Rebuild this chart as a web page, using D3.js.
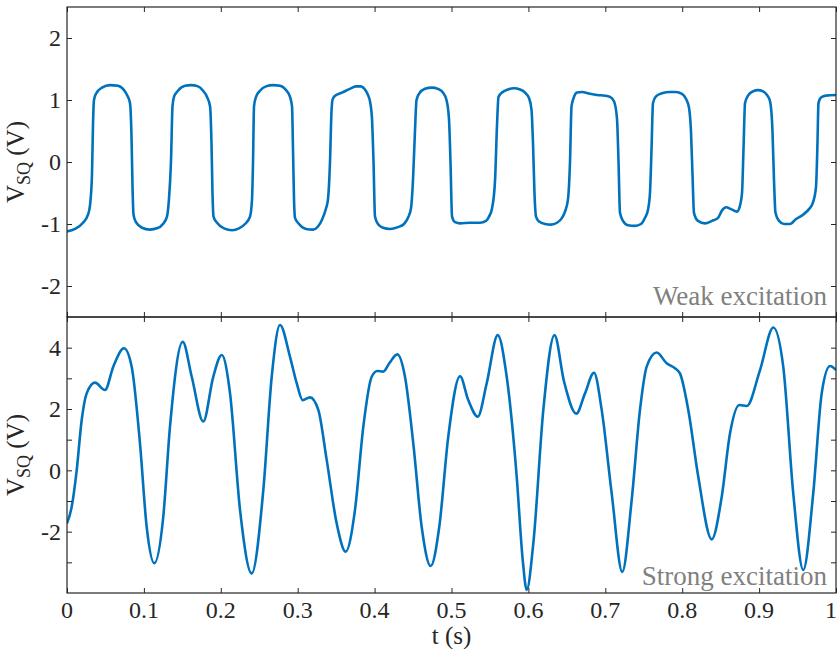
<!doctype html>
<html lang="en">
<head>
<meta charset="utf-8">
<style>
  body { margin: 0; background: #fff; }
  text { font-family: "Liberation Serif", "DejaVu Serif", serif; fill: #262626; }
  .eje line { stroke: #262626; stroke-width: 1; }
</style>
</head>
<body>
<div id="grafico"></div>
<script src="https://d3js.org/d3.v7.min.js"></script>
<script>

// weak excitation, square-ish wave
var weakT = [0, 0.0104, 0.0208, 0.0273, 0.0299, 0.0325, 0.0338, 0.0351, 0.0377, 0.0455, 0.0559, 0.0663, 0.0741, 0.078, 0.0819, 0.0839, 0.0852, 0.0865, 0.0897, 0.0975,
  0.1079, 0.117, 0.1248, 0.13, 0.1326, 0.1352, 0.1372, 0.1391, 0.1443, 0.1534, 0.1612, 0.1704, 0.1769, 0.1821, 0.186, 0.1879, 0.1892, 0.1905, 0.1951,
  0.2042, 0.2146, 0.2237, 0.2315, 0.238, 0.2406, 0.2419, 0.2432, 0.2458, 0.251, 0.2588, 0.2679, 0.277, 0.2848, 0.29, 0.2926, 0.2939, 0.2952, 0.2965,
  0.3017, 0.3108, 0.3199, 0.3264, 0.3316, 0.3368, 0.3394, 0.342, 0.3439, 0.3452, 0.3485, 0.3576, 0.368, 0.3758, 0.3823, 0.3875, 0.3914, 0.394, 0.3966, 0.3986,
  0.4005, 0.4044, 0.4109, 0.42, 0.4304, 0.4382, 0.4434, 0.4473, 0.4499, 0.4525, 0.4545, 0.4577, 0.4655, 0.4746, 0.4824, 0.4889, 0.4935, 0.4967, 0.4987,
  0.5007, 0.5046, 0.5111, 0.5241, 0.5371, 0.5449, 0.5488, 0.5527, 0.5566, 0.5592, 0.5611, 0.5657, 0.5735, 0.5813, 0.5891, 0.5956,
  0.6008, 0.604, 0.606, 0.6079, 0.6099, 0.6138, 0.6216, 0.6294, 0.6372, 0.6437, 0.6476, 0.6515, 0.6541, 0.6561, 0.6593, 0.6632, 0.6697, 0.6801, 0.6892, 0.6996,
  0.7061, 0.7113, 0.7152, 0.7172, 0.7191, 0.723, 0.7295, 0.7386, 0.7464, 0.7516, 0.7555, 0.7581, 0.7601, 0.762, 0.7659, 0.7737, 0.7841, 0.7919, 0.7997,
  0.8049, 0.8088, 0.8114, 0.8134, 0.8153, 0.8205, 0.8296, 0.8388, 0.8466, 0.8518, 0.857, 0.8635, 0.8713, 0.8752, 0.8778, 0.8797, 0.8817, 0.8856, 0.8921, 0.8986,
  0.9051, 0.9103, 0.9142, 0.9174, 0.9194, 0.9213, 0.9259, 0.9324, 0.9402, 0.948, 0.9571, 0.9649, 0.9701, 0.974, 0.9759, 0.9772, 0.9805, 0.987, 1];
var weakV = [-1.12, -1.08, -0.98, -0.85, -0.7, -0.2, 0.6, 1.0, 1.1, 1.2, 1.24, 1.23, 1.16, 1.08, 0.95, 0.4, -0.4, -0.85, -0.97, -1.06,
  -1.09, -1.07, -1.0, -0.88, -0.6, 0.0, 0.9, 1.05, 1.15, 1.23, 1.24, 1.22, 1.15, 1.05, 0.9, 0.3, -0.5, -0.88, -0.98,
  -1.07, -1.1, -1.07, -1.0, -0.88, -0.6, 0.0, 0.9, 1.05, 1.15, 1.22, 1.24, 1.23, 1.16, 1.05, 0.9, 0.2, -0.6, -0.9,
  -1.0, -1.08, -1.09, -1.04, -0.93, -0.75, -0.6, 0.0, 0.8, 1.0, 1.07, 1.12, 1.18, 1.22, 1.22, 1.17, 1.08, 0.98, 0.7, 0.0,
  -0.88, -1.0, -1.06, -1.08, -1.05, -1.0, -0.9, -0.75, -0.3, 0.5, 1.0, 1.1, 1.18, 1.2, 1.18, 1.12, 1.0, 0.7, 0.0,
  -0.88, -0.97, -0.99, -0.98, -0.98, -0.95, -0.88, -0.75, -0.3, 0.6, 1.05, 1.12, 1.17, 1.19, 1.17, 1.12,
  1.03, 0.85, 0.3, -0.5, -0.88, -0.96, -1.0, -1.01, -0.98, -0.9, -0.8, -0.6, 0.0, 0.9, 1.05, 1.12, 1.13, 1.1, 1.08, 1.07,
  1.05, 0.98, 0.7, 0.0, -0.82, -0.95, -1.02, -1.03, -1.0, -0.9, -0.77, -0.5, 0.2, 0.95, 1.06, 1.11, 1.13, 1.13, 1.1,
  1.02, 0.88, 0.5, -0.2, -0.82, -0.95, -0.99, -0.95, -0.9, -0.78, -0.73, -0.76, -0.8, -0.7, -0.5, 0.2, 0.95, 1.07, 1.14, 1.16,
  1.14, 1.08, 0.98, 0.5, -0.3, -0.82, -0.95, -1.0, -1.0, -0.92, -0.85, -0.76, -0.65, -0.4, 0.3, 0.95, 1.04, 1.07, 1.08];

// strong excitation, smooth oscillation
var strongT = [0, 0.0061, 0.0126, 0.0191, 0.0256, 0.0364, 0.0494, 0.0602, 0.0741, 0.0841, 0.0949, 0.1036, 0.1135, 0.1252, 0.1339, 0.1505, 0.1622, 0.1772, 0.1902,
  0.2012, 0.212, 0.225, 0.2402, 0.2553, 0.2662, 0.277, 0.29, 0.2987, 0.3065, 0.316, 0.3268, 0.3377, 0.3507, 0.3624, 0.3745, 0.3853, 0.3962,
  0.4035, 0.4113, 0.4191, 0.4295, 0.4395, 0.4503, 0.4612, 0.473, 0.4841, 0.4958, 0.5111, 0.5218, 0.5341, 0.5458, 0.5601, 0.5718, 0.5848, 0.5926, 0.5978,
  0.6064, 0.6194, 0.6339, 0.6463, 0.6623, 0.6736, 0.6853, 0.6953, 0.7083, 0.7221, 0.7343, 0.7451, 0.7538, 0.7668, 0.7798, 0.7906, 0.7971,
  0.8079, 0.8209, 0.8384, 0.8514, 0.8622, 0.8743, 0.8839, 0.9012, 0.9185, 0.9314, 0.9444, 0.9574, 0.9704, 0.9814, 0.9922, 1];
var strongV = [-1.73, -1.19, 0.0, 1.64, 2.51, 2.86, 2.62, 3.38, 3.98, 3.38, 0.88, -1.84, -3.03, -1.51, 1.42, 4.19, 3.05, 1.59, 3.05,
  3.76, 2.51, -1.29, -3.36, -0.64, 3.05, 4.74, 3.7, 2.84, 2.29, 2.38, 1.97, 0.34, -1.73, -2.65, -1.29, 1.42, 3.05,
  3.24, 3.22, 3.49, 3.78, 3.05, 0.88, -1.84, -3.12, -1.84, 1.1, 3.07, 2.29, 1.75, 2.84, 4.41, 3.05, -0.21, -2.92, -3.9,
  -2.38, 1.97, 4.41, 2.9, 1.85, 2.51, 3.18, 1.97, -0.75, -3.31, -0.97, 1.97, 3.38, 3.84, 3.49, 3.33, 3.16,
  1.97, -0.21, -2.25, -0.86, 1.21, 2.13, 2.1, 3.27, 4.66, 3.38, -0.75, -3.25, -0.75, 2.51, 3.4, 3.27];

var xTicks = d3.range(0, 11).map(function(i){ return i / 10; });
var weakTicks = [-2, -1, 0, 1, 2];
var strongTicks = [-3, -2, -1, 0, 1, 2, 3, 4];

var W = 838, H = 649;
var svg = d3.select("#grafico").append("svg").attr("width", W).attr("height", H);

var x = d3.scaleLinear().domain([0, 1]).range([67, 836]);
var yTop = d3.scaleLinear().domain([-2.5, 2.5]).range([317, 7]);
var yBot = d3.scaleLinear().domain([-4, 5]).range([593, 317]);

function panel(y, ts, vs, yt, label, labelY, clipId) {
  var r = y.range();
  var g = svg.append("g");

  g.append("clipPath").attr("id", clipId).append("rect")
    .attr("x", x(0)).attr("y", r[1]).attr("width", x(1) - x(0)).attr("height", r[0] - r[1]);

  var linea = d3.line()
    .x(function(d, i){ return x(ts[i]); })
    .y(function(d){ return y(d); })
    .curve(d3.curveMonotoneX);

  g.append("path").datum(vs).attr("d", linea)
    .attr("clip-path", "url(#" + clipId + ")")
    .attr("fill", "none").attr("stroke", "#0072BD").attr("stroke-width", 2.6)
    .attr("stroke-linejoin", "round");

  // ticks hacia adentro en los cuatro lados
  var fmt = function(d){ return d % 2 === 0 || yt.length < 6 ? String(d) : ""; };
  g.append("g").attr("class", "eje").attr("transform", "translate(" + x(0) + ",0)")
    .call(d3.axisLeft(y).tickValues(yt).tickSize(-5).tickSizeOuter(0).tickPadding(6).tickFormat(fmt));
  g.append("g").attr("class", "eje").attr("transform", "translate(" + x(1) + ",0)")
    .call(d3.axisRight(y).tickValues(yt).tickSize(-5).tickSizeOuter(0).tickFormat(""));
  g.append("g").attr("class", "eje").attr("transform", "translate(0," + r[1] + ")")
    .call(d3.axisTop(x).tickValues(xTicks).tickSize(-5).tickSizeOuter(0).tickFormat(""));
  g.append("g").attr("class", "eje").attr("transform", "translate(0," + r[0] + ")")
    .call(d3.axisBottom(x).tickValues(xTicks).tickSize(-5).tickSizeOuter(0).tickFormat(""));
  g.selectAll(".eje .domain").remove();
  g.selectAll(".eje text").style("font-size", "24px").attr("fill", "#262626");

  g.append("rect").attr("x", x(0)).attr("y", r[1]).attr("width", x(1) - x(0)).attr("height", r[0] - r[1])
    .attr("fill", "none").attr("stroke", "#262626").attr("stroke-width", 1.2);

  // V_SQ (V)
  var cy = (r[0] + r[1]) / 2;
  var yl = g.append("text").attr("transform", "translate(24," + cy + ") rotate(-90)")
    .attr("text-anchor", "middle").style("font-size", "25px");
  yl.append("tspan").text("V");
  yl.append("tspan").attr("dy", 6).style("font-size", "18px").text("SQ");
  yl.append("tspan").attr("dy", -6).text(" (V)");

  g.append("text").attr("x", 827).attr("y", labelY).attr("text-anchor", "end")
    .style("font-size", "27px").style("fill", "#808080").text(label);
}

panel(yTop, weakT, weakV, weakTicks, "Weak excitation", 305, "clipA");
panel(yBot, strongT, strongV, strongTicks, "Strong excitation", 585, "clipB");

// etiquetas del eje t (la ultima pegada al borde)
svg.append("g").selectAll("text").data(xTicks).enter().append("text")
  .attr("x", function(d){ return d === 1 ? W - 1 : x(d); }).attr("y", 618)
  .attr("text-anchor", function(d){ return d === 1 ? "end" : "middle"; })
  .style("font-size", "24px")
  .text(function(d){ return d3.format("~g")(d); });

svg.append("text").attr("x", (x(0) + x(1)) / 2).attr("y", 644)
  .attr("text-anchor", "middle").style("font-size", "25px").text("t (s)");

</script>
</body>
</html>
